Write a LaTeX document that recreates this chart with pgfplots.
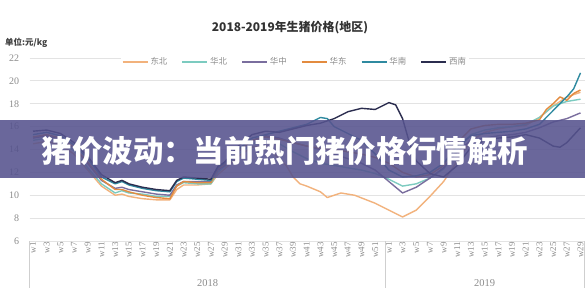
\documentclass[border=0pt]{standalone}
\usepackage{pgfplots}
\pgfplotsset{compat=1.18}
\usepackage{fontspec}
\setmainfont{Liberation Serif}
\newfontfamily\cjk{Noto Sans CJK SC}
\definecolor{dongbei}{HTML}{F2B27C}
\definecolor{huabei}{HTML}{7CCBC0}
\definecolor{huazhong}{HTML}{7A6E9E}
\definecolor{huadong}{HTML}{E38B3F}
\definecolor{huanan}{HTML}{2F8AA0}
\definecolor{xinan}{HTML}{2B2D4F}
\definecolor{gridc}{HTML}{E3E3E3}
\definecolor{labc}{HTML}{8C8C8C}
\definecolor{bannerc}{HTML}{56538E}
\begin{document}
\begin{tikzpicture}
\path[use as bounding box] (0,0) rectangle (585bp,299bp);
\fill[white] (0,0) rectangle (585bp,299bp);
\begin{axis}[
  at={(29.6bp,58bp)}, anchor=south west,
  scale only axis, width=555bp, height=183bp,
  xmin=-0.5, xmax=80.6, ymin=6, ymax=22,
  ytick={6,8,...,22},
  ymajorgrids, grid style={draw=gridc, line width=0.8bp},
  axis line style={draw=none},
  major tick length=0pt,
  xtick={0,2,...,80},
  xticklabels={w1,w3,w5,w7,w9,w11,w13,w15,w17,w19,w21,w23,w25,w27,w29,w31,w33,w35,w37,w39,w41,w43,w45,w47,w49,w51,w1,w3,w5,w7,w9,w11,w13,w15,w17,w19,w21,w23,w25,w27,w29},
  xticklabel style={rotate=90, anchor=east, font=\fontsize{9}{10}\selectfont, text=labc, inner sep=1bp},
  yticklabel style={font=\fontsize{10}{11}\selectfont, text=labc, xshift=-7bp},
  /pgf/number format/assume math mode=true,
  clip=false,
  legend columns=6,
  legend style={at={(0.478,0.978)}, anchor=center, draw=none, fill=white,
    font=\cjk\fontsize{8.5}{10}\selectfont, text=labc,
    /tikz/every even column/.append style={column sep=12bp}, inner sep=1bp},
  legend image code/.code={\draw[#1, line width=1.8bp] (0bp,0bp) -- (25bp,0bp);},
  every axis plot/.append style={line width=1.4bp, line join=round},
]
\addplot[dongbei] coordinates {(0,14.5)(2,14.7)(4,14.4)(6,13.6)(8,12.2)(10,10.8)(12,10.0)(13,10.1)(14,9.9)(16,9.7)(18,9.6)(20,9.6)(21,10.5)(22,10.9)(24,10.9)(26,11.0)(27,11.8)(28,12.3)(30,13.4)(32,14.2)(34,14.3)(36,13.2)(37,12.6)(38,11.6)(39,11.0)(40,10.8)(42,10.3)(43,9.8)(45,10.2)(47,10.0)(50,9.3)(52,8.7)(54,8.1)(56,8.7)(58,9.9)(60,11.2)(62,13.0)(64,14.8)(66,15.5)(68,15.8)(70,16.0)(72,16.1)(74,16.8)(76,17.8)(78,18.6)(80,19.0)};
\addlegendentry{东北}
\addplot[huabei] coordinates {(0,14.8)(2,15.0)(4,14.7)(6,13.9)(8,12.4)(10,11.0)(12,10.2)(13,10.4)(14,10.2)(16,10.1)(18,9.9)(20,9.9)(21,10.8)(22,11.1)(24,11.0)(26,11.0)(27,12.0)(28,12.5)(30,13.6)(32,14.5)(34,14.8)(36,14.5)(38,13.8)(40,13.2)(42,12.8)(44,12.6)(46,12.4)(48,12.2)(50,11.9)(52,11.4)(54,10.8)(56,11.0)(58,11.5)(60,12.3)(62,14.0)(64,15.3)(66,15.7)(68,15.9)(70,16.0)(72,16.2)(74,16.8)(76,17.8)(78,18.2)(80,18.4)};
\addlegendentry{华北}
\addplot[huazhong] coordinates {(0,15.0)(2,15.2)(4,14.9)(6,14.1)(8,12.8)(10,11.3)(12,10.6)(13,10.7)(14,10.5)(16,10.3)(18,10.1)(20,10.0)(21,10.9)(22,11.2)(24,11.2)(26,11.2)(27,12.2)(28,12.6)(30,13.8)(32,14.8)(34,15.2)(36,15.0)(38,14.6)(40,14.3)(42,14.0)(44,13.6)(46,13.2)(48,12.8)(50,12.2)(52,11.2)(54,10.2)(56,10.7)(58,11.5)(60,12.4)(62,13.8)(64,14.8)(66,15.0)(68,15.2)(70,15.3)(72,15.5)(74,15.9)(76,16.4)(78,16.7)(80,17.2)};
\addlegendentry{华中}
\addplot[huadong] coordinates {(0,15.1)(2,15.3)(4,15.0)(6,14.2)(8,12.9)(10,11.4)(12,10.5)(13,10.5)(14,10.3)(16,10.0)(18,9.8)(20,9.7)(21,10.8)(22,11.2)(24,11.1)(26,11.1)(27,12.3)(28,12.7)(30,13.9)(32,14.8)(34,15.1)(36,14.9)(38,14.6)(40,14.3)(42,14.1)(44,14.0)(46,13.8)(48,13.6)(50,13.3)(52,12.8)(54,12.0)(56,11.6)(58,11.8)(60,12.6)(62,14.6)(64,15.8)(66,16.1)(68,16.2)(70,16.2)(72,16.3)(74,16.6)(75,17.5)(76,18.0)(77,18.6)(78,18.3)(79,18.9)(80,19.2)};
\addlegendentry{华东}
\addplot[huanan] coordinates {(0,15.3)(2,15.5)(4,15.2)(6,14.4)(8,13.2)(10,11.6)(12,11.0)(13,11.2)(14,10.9)(16,10.6)(18,10.4)(20,10.3)(21,11.2)(22,11.5)(24,11.4)(26,11.3)(27,12.4)(28,12.8)(30,14.0)(32,15.0)(34,15.3)(36,15.6)(38,15.9)(40,16.2)(42,16.8)(43,16.7)(44,16.0)(46,15.4)(48,14.8)(50,13.6)(52,12.2)(54,11.6)(56,11.7)(58,12.0)(60,12.8)(62,14.3)(64,15.2)(66,15.4)(68,15.5)(70,15.6)(72,15.8)(74,16.2)(76,17.4)(78,18.6)(79,19.3)(80,20.7)};
\addlegendentry{华南}
\addplot[xinan] coordinates {(0,15.6)(2,15.7)(4,15.4)(6,14.6)(8,13.4)(10,11.8)(12,11.1)(13,11.3)(14,11.0)(16,10.7)(18,10.5)(20,10.4)(21,11.3)(22,11.6)(24,11.5)(26,11.4)(27,12.5)(28,12.9)(30,14.3)(32,15.3)(34,15.6)(36,15.5)(38,15.8)(40,16.1)(42,16.3)(44,16.7)(46,17.3)(48,17.6)(50,17.5)(52,18.1)(53,17.9)(54,16.7)(55,14.6)(56,13.0)(58,11.9)(60,11.6)(62,12.6)(64,14.2)(66,14.8)(68,15.0)(70,15.1)(72,15.3)(74,15.0)(76,14.3)(77,14.2)(78,14.6)(80,15.9)};
\addlegendentry{西南}
\draw[gridc!80!gray, line width=0.8bp] (axis cs:-0.5,6) -- (axis cs:-0.5,1.9);
\draw[gridc!80!gray, line width=0.8bp] (axis cs:51.5,6) -- (axis cs:51.5,1.9);
\draw[gridc!80!gray, line width=0.8bp] (axis cs:80.6,6) -- (axis cs:80.6,1.9);
\node[font=\fontsize{10.5}{12}\selectfont, text=labc] at (axis cs:25.5,2.33) {2018};
\node[font=\fontsize{10.5}{12}\selectfont, text=labc] at (axis cs:66,2.33) {2019};
\end{axis}
\node[font=\cjk\bfseries\fontsize{12}{14}\selectfont, text=black!80] at (290bp,271bp) {2018-2019年生猪价格(地区)};
\node[anchor=west, font=\cjk\bfseries\fontsize{8.5}{10}\selectfont, text=black!75, inner sep=0pt] at (5bp,256bp) {单位:元/kg};
\fill[bannerc, opacity=0.88] (0,121bp) rectangle (585bp,179bp);
\node[font=\cjk\bfseries\fontsize{30.5}{32}\selectfont, text=white] at (285bp,148bp) {猪价波动：当前热门猪价格行情解析};
\end{tikzpicture}
\end{document}
